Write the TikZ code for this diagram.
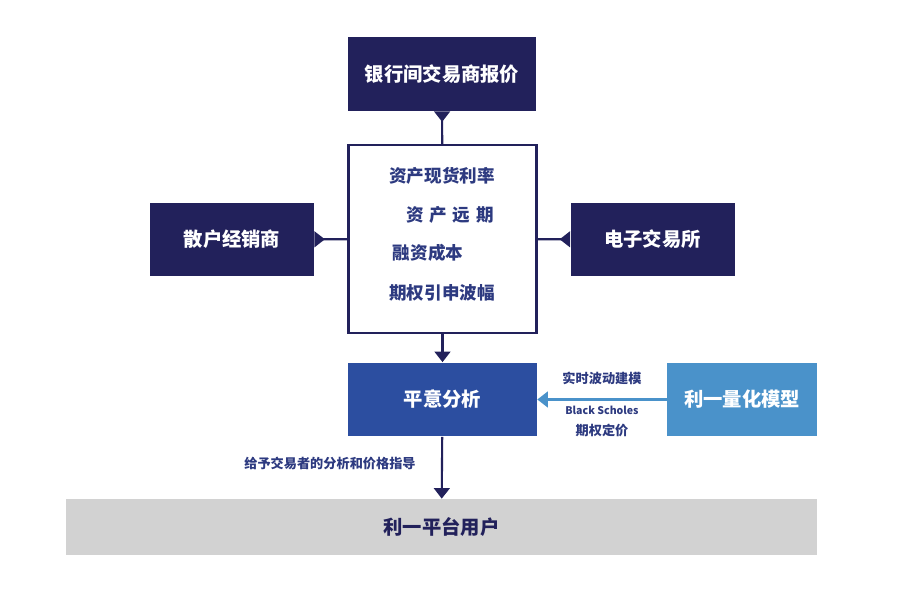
\documentclass[tikz,border=0pt]{standalone}
\usepackage{fontspec}
\setmainfont{Noto Sans CJK SC}
\newfontfamily\cjk{Noto Sans CJK SC}
\usetikzlibrary{arrows.meta,positioning,calc}
\definecolor{navy}{HTML}{22215B}
\definecolor{midblue}{HTML}{2C4EA0}
\definecolor{lightblue}{HTML}{4A92CA}
\definecolor{txtblue}{HTML}{2D3A80}
\definecolor{bargrey}{HTML}{D2D2D2}
\tikzset{
  darkbox/.style={fill=navy, text=white, font=\cjk\bfseries\fontsize{11}{13}\selectfont, minimum width=3.28cm, minimum height=1.48cm, inner sep=0pt},
  link/.style={draw=navy, line width=1.2pt},
  lbl/.style={text=txtblue, font=\cjk\bfseries\fontsize{7.5}{9}\selectfont, inner sep=1pt},
  inlbl/.style={text=txtblue, font=\cjk\bfseries\fontsize{10}{12}\selectfont}
}
\begin{document}
\begin{tikzpicture}[x=0.02cm, y=-0.02cm]
\useasboundingbox (0,0) rectangle (911,590);
\node (quote) [darkbox, minimum width=3.76cm] at (442,74) {银行间交易商报价};
\node (centre) [draw=navy, line width=1.2pt, minimum width=3.76cm, minimum height=3.76cm] at (442.5,239) {};
\node (l1) [inlbl] at (442,176) {资产现货利率};
\node (l2) [inlbl] at (450,215) {资\,\,产\,\,远\,\,期};
\node (l3) [inlbl] at (428,253) {融资成本};
\node (l4) [inlbl] at (442,293) {期权引申波幅};
\node (retail) [darkbox] at (232,239.5) {散户经销商};
\node (exch) [darkbox] at (652.5,239.5) {电子交易所};
\node (anal) [darkbox, fill=midblue, minimum width=3.78cm] at (442.5,399.5) {平意分析};
\node (quant) [darkbox, fill=lightblue, minimum width=3.0cm] at (742,399.5) {利一量化模型};
\node (users) [fill=bargrey, text=navy, font=\cjk\bfseries\fontsize{11}{13}\selectfont, minimum width=15.02cm, minimum height=1.12cm, inner sep=0pt] at (441.5,527) {利一平台用户};
% connectors
\draw[link, -{Triangle[reversed, length=6pt, width=9pt]}] (centre) -- (quote);
\draw[link, -{Triangle[reversed, length=6pt, width=9pt]}] (centre) -- (retail);
\draw[link, -{Triangle[reversed, length=6pt, width=9pt]}] (centre) -- (exch);
\draw[link, -{Triangle[length=6pt, width=9pt]}] (centre) -- (anal);
\draw[link, -{Triangle[length=6pt, width=9pt]}] (anal) -- (users);
\draw[draw=lightblue, line width=1.2pt, -{Triangle[length=6pt, width=9pt]}] (quant) -- (anal);
% labels
\node (model) [lbl] at (602,378) {实时波动建模};
\node (bs) [lbl, font=\cjk\bfseries\fontsize{6}{8}\selectfont] at (602,410) {Black Scholes};
\node (price) [lbl] at (602,430) {期权定价};
\node (guide) [lbl] at (330,463) {给予交易者的分析和价格指导};
\end{tikzpicture}
\end{document}
